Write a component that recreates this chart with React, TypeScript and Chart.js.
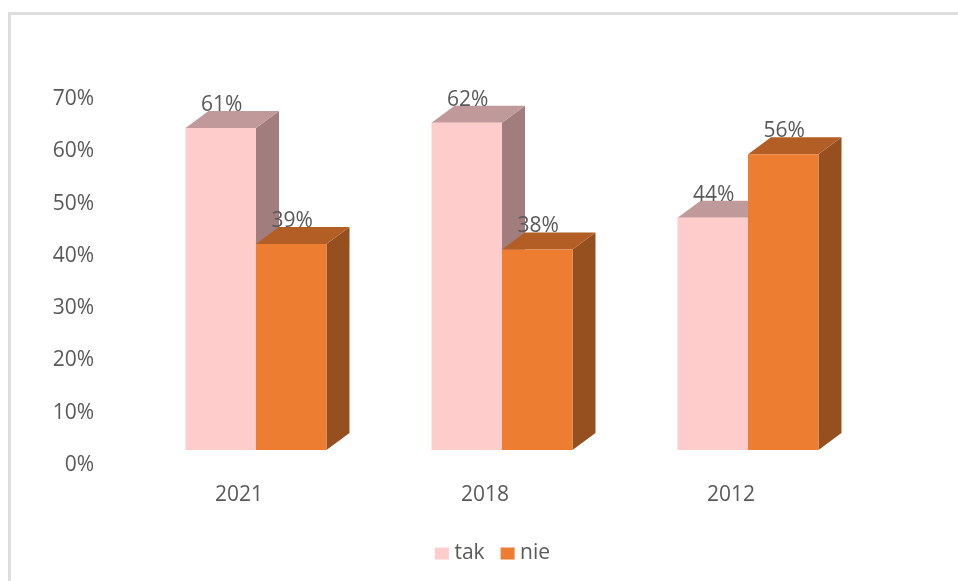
import React, { useEffect, useRef } from "react";
import { Chart, registerables } from "chart.js";

Chart.register(...registerables);

const years = ["2021", "2018", "2012"];
const takValues = [61, 62, 44];
const nieValues = [39, 38, 56];
const axisTicks = [0, 10, 20, 30, 40, 50, 60, 70];

const FONT = '"Open Sans", sans-serif';
const TEXT = "#595959";
const DEPTH_X = 23;
const DEPTH_Y = 17;

const faceColors = [
  { top: "#c09a9a", side: "#a27d7d" },
  { top: "#b25e25", side: "#964f1e" },
];

const bars3d = {
  id: "bars3d",
  beforeDatasetsDraw(chart: any) {
    const ctx = chart.ctx;
    chart.data.datasets.forEach((_: any, i: number) => {
      chart.getDatasetMeta(i).data.forEach((bar: any) => {
        const l = bar.x - bar.width / 2;
        const r = bar.x + bar.width / 2;
        const t = bar.y;
        const b = bar.base;
        ctx.fillStyle = faceColors[i].side;
        ctx.beginPath();
        ctx.moveTo(r, t);
        ctx.lineTo(r + DEPTH_X, t - DEPTH_Y);
        ctx.lineTo(r + DEPTH_X, b - DEPTH_Y);
        ctx.lineTo(r, b);
        ctx.closePath();
        ctx.fill();
        ctx.fillStyle = faceColors[i].top;
        ctx.beginPath();
        ctx.moveTo(l, t);
        ctx.lineTo(l + DEPTH_X, t - DEPTH_Y);
        ctx.lineTo(r + DEPTH_X, t - DEPTH_Y);
        ctx.lineTo(r, t);
        ctx.closePath();
        ctx.fill();
      });
    });
  },
  afterDatasetsDraw(chart: any) {
    const ctx = chart.ctx;
    ctx.save();
    ctx.font = `21px ${FONT}`;
    ctx.fillStyle = TEXT;
    ctx.textAlign = "center";
    ctx.textBaseline = "middle";
    chart.data.datasets.forEach((ds: any, i: number) => {
      chart.getDatasetMeta(i).data.forEach((bar: any, j: number) => {
        ctx.fillText(`${ds.data[j]}%`, bar.x + 1, bar.y - 23);
      });
    });
    ctx.restore();
  },
};

export default function App() {
  const ref = useRef<HTMLCanvasElement>(null);
  useEffect(() => {
    const chart = new Chart(ref.current as HTMLCanvasElement, {
      type: "bar",
      data: {
        labels: years,
        datasets: [
          { label: "tak", data: takValues, backgroundColor: "#ffcccc", yAxisID: "bars", borderWidth: 0 },
          { label: "nie", data: nieValues, backgroundColor: "#ed7d31", yAxisID: "bars", borderWidth: 0 },
        ],
      },
      options: {
        responsive: false,
        animation: false,
        layout: { padding: { left: 32, top: 97, right: 0, bottom: 7 } },
        datasets: { bar: { categoryPercentage: 0.573, barPercentage: 1 } },
        plugins: {
          tooltip: { enabled: false },
          legend: {
            position: "bottom",
            labels: {
              boxWidth: 4,
              boxHeight: 2,
              padding: 21,
              color: TEXT,
              font: { family: FONT, size: 21 },
              generateLabels(chart: any) {
                return Chart.defaults.plugins.legend.labels.generateLabels(chart).map((item: any) => ({
                  ...item,
                  lineWidth: 10,
                  strokeStyle: item.fillStyle,
                }));
              },
            },
          },
        },
        scales: {
          x: {
            grid: { display: false, drawTicks: false },
            border: { display: false },
            ticks: {
              color: TEXT,
              font: { family: FONT, size: 21 },
              padding: 19,
              labelOffset: -17,
              maxRotation: 0,
              autoSkip: false,
            },
            afterFit(scale: any) {
              scale.height = 59;
            },
          },
          y: {
            position: "left",
            min: axisTicks[0],
            max: axisTicks[axisTicks.length - 1],
            grid: { display: false, drawTicks: false },
            border: { display: false },
            ticks: {
              color: TEXT,
              font: { family: FONT, size: 21 },
              padding: 39,
              stepSize: 10,
              labelOffset: 2,
              callback: (v: any) => `${v}%`,
            },
            afterFit(scale: any) {
              scale.width = 101;
            },
          },
          bars: {
            position: "right",
            min: -2.46,
            max: 66.86,
            grid: { display: false, drawTicks: false },
            border: { display: false },
            ticks: { display: false },
            afterFit(scale: any) {
              scale.width = 87;
            },
          },
        },
      },
      plugins: [bars3d],
    } as any);
    return () => chart.destroy();
  }, []);

  return (
    <div style={{ position: "fixed", inset: 0, background: "#fff", overflow: "hidden" }}>
      <div
        style={{
          position: "absolute",
          left: 8,
          top: 12,
          right: -4,
          bottom: -4,
          borderTop: "3px solid #dedede",
          borderLeft: "3px solid #dedede",
        }}
      />
      <canvas ref={ref} width={958} height={581} style={{ position: "absolute", left: 0, top: 0, display: "block" }} />
    </div>
  );
}
